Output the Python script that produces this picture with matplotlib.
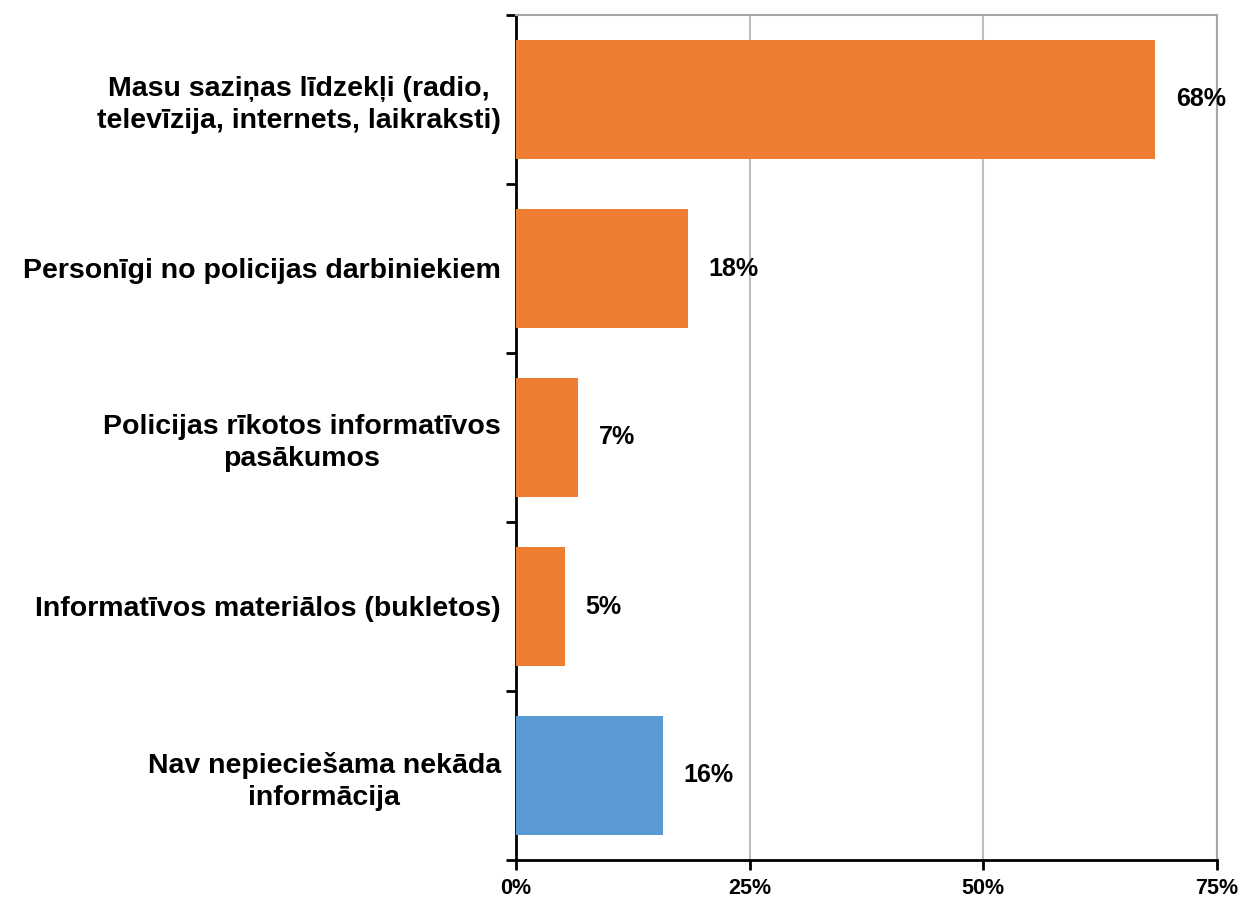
import matplotlib
matplotlib.use("Agg")
import matplotlib.pyplot as plt
import numpy as np

categories = [
    "Masu saziņas līdzekļi (radio,\ntelevīzija, internets, laikraksti)",
    "Personīgi no policijas darbiniekiem",
    "Policijas rīkotos informatīvos\npasākumos",
    "Informatīvos materiālos (bukletos)",
    "Nav nepieciešama nekāda\ninformācija",
]
values = [68.4, 18.4, 6.6, 5.2, 15.7]
colors = ["#ED7D31", "#ED7D31", "#ED7D31", "#ED7D31", "#5B9BD5"]
xticks = [0, 25, 50, 75]
xticklabels = ["0%", "25%", "50%", "75%"]

plt.rcParams['font.family'] = ['Liberation Sans', 'DejaVu Sans']
plt.rcParams['font.weight'] = 'bold'

fig = plt.figure(figsize=(12.44, 8.99), dpi=100)
ax = fig.add_axes([516/1244, 1-860/899, (1217-516)/1244, (860-15)/899])

n = len(categories)
y = np.arange(n)
ax.barh(y, values, height=0.71, color=colors, zorder=3)
ax.set_ylim(n - 0.5, -0.5)
ax.set_xlim(0, 75)

for yi, v in zip(y, values):
    ax.annotate(f"{v:.0f}%", xy=(v, yi), xytext=(15, 0), textcoords="offset points",
                ha="left", va="center", fontsize=18, fontweight="bold", color="black", zorder=4)

ax.set_yticks(y)
ax.set_yticklabels(categories, fontsize=20.5, fontweight="bold")
for t in ax.get_yticklabels():
    t.set_multialignment("center")
    t.set_linespacing(1.3)
ax.set_yticks(np.arange(n + 1) - 0.5, minor=True)
ax.tick_params(axis="y", which="major", length=0, pad=11)
ax.tick_params(axis="y", which="minor", length=7, width=2, direction="out", color="black")

ax.set_xticks(xticks)
ax.set_xticklabels(xticklabels, fontsize=15.5, fontweight="bold")
ax.tick_params(axis="x", which="major", length=7, width=2, direction="out", pad=6, color="black")

ax.grid(axis="x", color="#BFBFBF", linewidth=1.5, zorder=0)
ax.set_axisbelow(True)

ax.spines["left"].set_linewidth(2)
ax.spines["left"].set_color("black")
ax.spines["bottom"].set_linewidth(2)
ax.spines["bottom"].set_color("black")
ax.spines["top"].set_color("#A6A6A6")
ax.spines["top"].set_linewidth(1.5)
ax.spines["right"].set_color("#A6A6A6")
ax.spines["right"].set_linewidth(1.5)

fig.savefig("out.png", dpi=100, facecolor="white")
